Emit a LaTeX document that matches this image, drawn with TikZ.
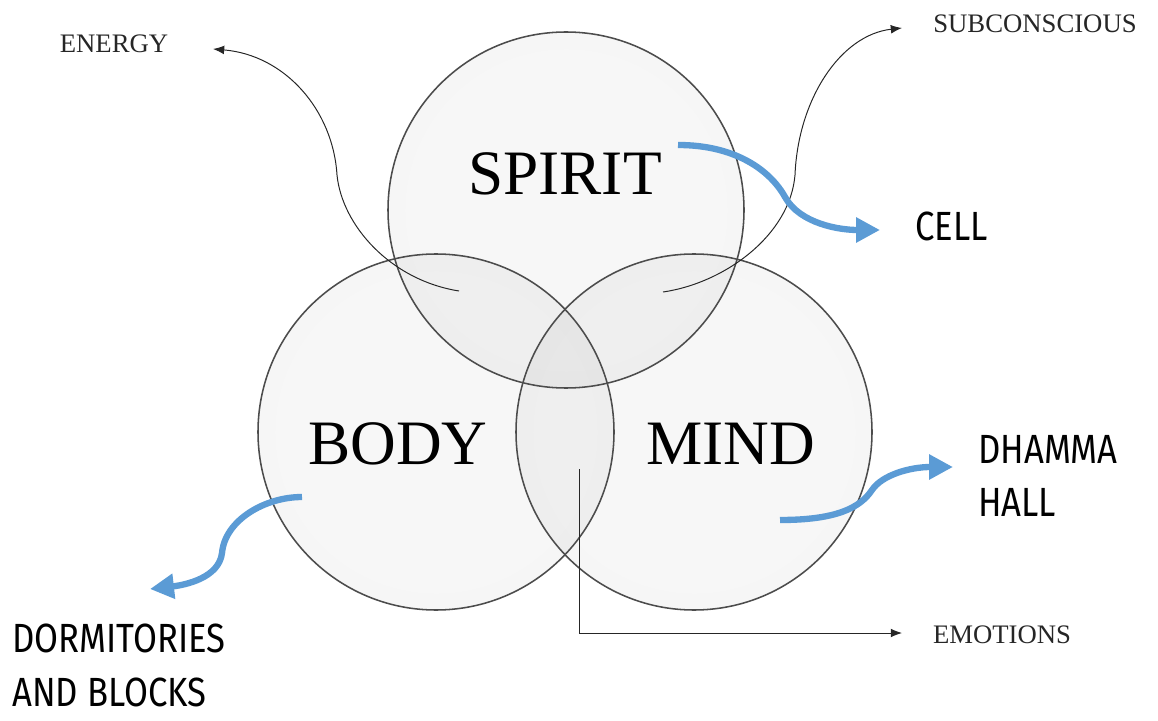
\documentclass[tikz,border=0pt]{standalone}
\usepackage{fontspec}
\setmainfont{Liberation Serif}
\newfontfamily\placefont[FakeStretch=0.85]{Fira Sans}
\usetikzlibrary{arrows.meta}

\pgfdeclareradialshading{bubble}{\pgfpoint{0bp}{0bp}}{%
  color(0bp)=(gray!6); color(34bp)=(gray!7); color(41bp)=(gray!13);
  color(45.5bp)=(gray!26); color(47.8bp)=(gray!42); color(48.7bp)=(white);
  color(49.4bp)=(white); color(50bp)=(gray!60)}
\definecolor{arrowblue}{HTML}{5B9BD5}

\begin{document}
\begin{tikzpicture}[
  ring/.style={draw=black!70, line width=1.1pt},
  thin arrow/.style={draw=black!85, line width=0.7pt, -{Latex[length=2.8mm,width=2.2mm]}},
  blue arrow/.style={draw=arrowblue, line width=4.5pt, -{Triangle[length=6mm,width=6mm]}},
  big/.style={font=\fontsize{45}{50}\selectfont, inner sep=0pt},
  small/.style={font=\fontsize{19}{22}\selectfont, text=black!85, inner sep=0pt},
  place/.style={font=\placefont\fontsize{29}{38}\selectfont, align=left, inner sep=0pt}
]
\useasboundingbox (0,0) rectangle (28.95,18);

\begin{scope}[blend group=multiply]
\shade[shading=bubble] (14.15,12.75) circle (4.45);
\shade[shading=bubble] (10.9,7.2) circle (4.45);
\shade[shading=bubble] (17.35,7.2) circle (4.45);
\end{scope}

\draw[ring] (14.15,12.75) circle (4.45);
\draw[ring] (10.9,7.2) circle (4.45);
\draw[ring] (17.35,7.2) circle (4.45);

\node[big] (spirit) at (14.125,13.65) {SPIRIT};
\node[big] (body) at (9.95,6.9) {BODY};
\node[big] (mind) at (18.275,6.9) {MIND};

\node[small] (energy) at (2.85,16.9) {ENERGY};
\node[small] (subcon) at (25.875,17.4) {SUBCONSCIOUS};
\node[small] (emotions) at (25.05,2.125) {EMOTIONS};

\node[place, anchor=west] (cell) at (22.875,12.34) {CELL};
\node[place, anchor=north west] (hall) at (24.45,7.125) {DHAMMA\\HALL};
\node[place, anchor=north west] (dorms) at (0.3,2.4) {DORMITORIES\\AND BLOCKS};

\coordinate (energy from) at (11.475,10.725);
\coordinate (energy to) at (5.325,16.775);
\coordinate (subcon from) at (16.575,10.7);
\coordinate (subcon to) at (22.55,17.3);
\coordinate (emotions from) at (14.475,6.275);
\coordinate (emotions to) at (22.55,2.175);

\draw[thin arrow] (energy from) .. controls (9.75,11.0) and (8.55,12.375) .. (8.425,13.625)
  .. controls (8.325,15.25) and (7.125,16.625) .. (energy to);
\draw[thin arrow] (subcon from) .. controls (18.125,10.925) and (19.75,12.125) .. (19.875,13.625)
  .. controls (19.95,15.5) and (21.0,17.125) .. (subcon to);
\draw[thin arrow] (emotions from) |- (emotions to);

\coordinate (cell from) at (16.95,14.375);
\coordinate (cell to) at (22.0,12.25);
\coordinate (hall from) at (19.5,5.0);
\coordinate (hall to) at (23.825,6.325);
\coordinate (dorms from) at (7.55,5.575);
\coordinate (dorms to) at (3.75,3.275);

\draw[blue arrow] (cell from) .. controls (18.375,14.375) and (19.25,13.75) .. (19.625,13.075)
  .. controls (20.0,12.4) and (21.0,12.25) .. (cell to);
\draw[blue arrow] (hall from) .. controls (20.9,5.0) and (21.5,5.3) .. (21.8,5.75)
  .. controls (22.05,6.125) and (22.75,6.325) .. (hall to);
\draw[blue arrow] (dorms from) .. controls (6.625,5.575) and (5.625,5.0) .. (5.55,4.175)
  .. controls (5.475,3.55) and (4.625,3.375) .. (dorms to);

\end{tikzpicture}
\end{document}
